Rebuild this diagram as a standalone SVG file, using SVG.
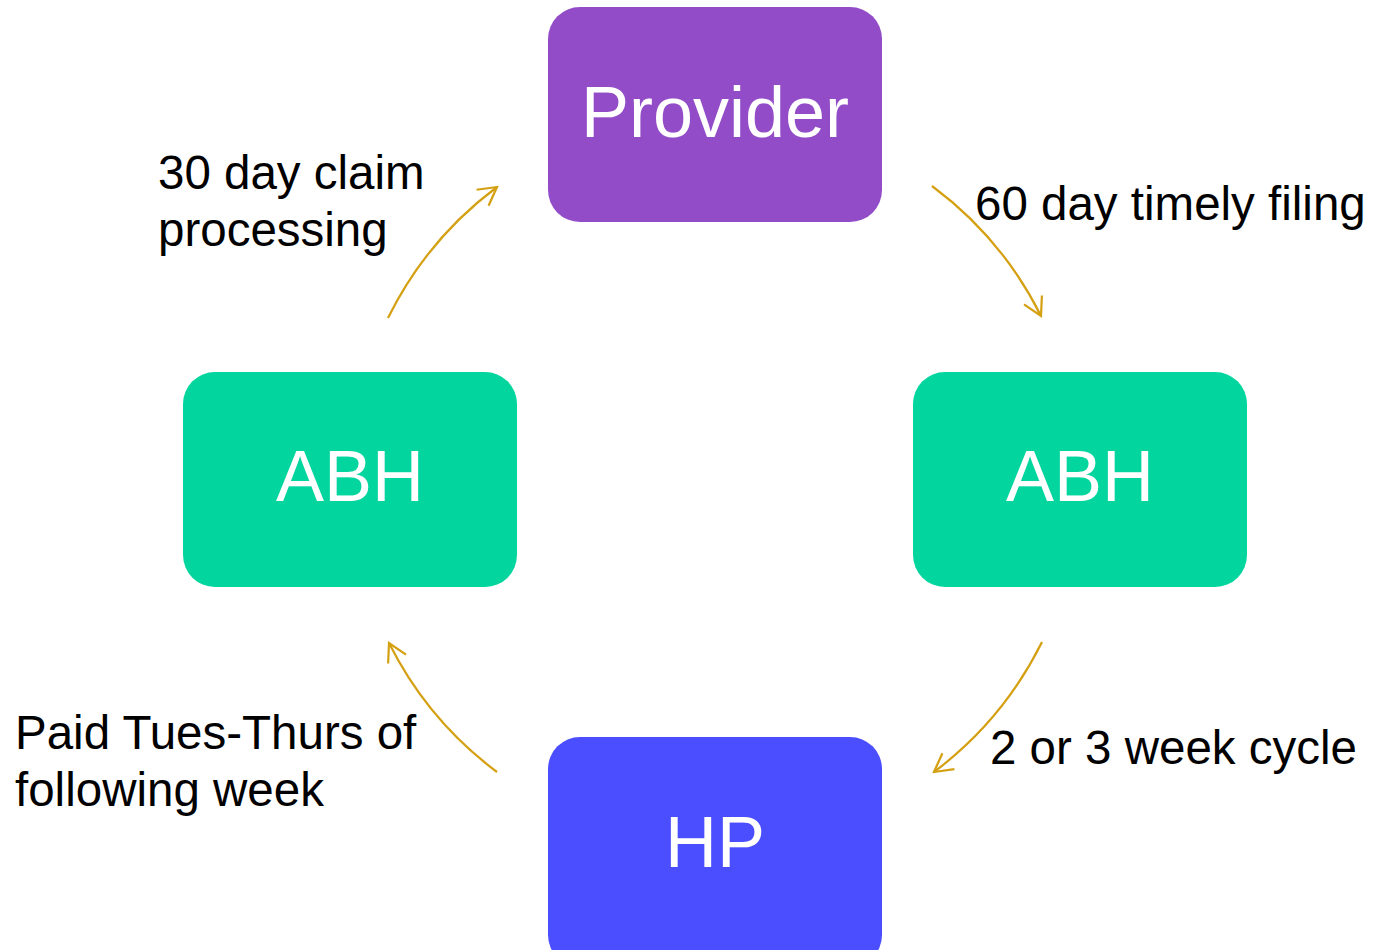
<svg xmlns="http://www.w3.org/2000/svg" width="1374" height="950" viewBox="0 0 1374 950">
<style>
.box{stroke:none}
.nt{font-family:"Liberation Sans",Arial,sans-serif;font-size:72px;fill:#ffffff;text-anchor:middle}
.lbl{font-family:"Liberation Sans",Arial,sans-serif;font-size:47.5px;fill:#000000}
.arc{fill:none;stroke:#D4A012;stroke-width:2.2;marker-end:url(#ah)}
</style>
<defs>
<marker id="ah" markerUnits="userSpaceOnUse" markerWidth="24" markerHeight="24" viewBox="-20 -12 24 24" refX="0" refY="0" orient="auto">
<path d="M-18,-10 L0,0 L-18,10" fill="none" stroke="#D4A012" stroke-width="2.2"/>
</marker>
</defs>
<rect width="1374" height="950" fill="#ffffff"/>
<g id="provider">
<rect class="box" x="548" y="7" width="334" height="215" rx="32" fill="#934CC7"/>
<text class="nt" x="715" y="137">Provider</text>
</g>
<g id="abh-right">
<rect class="box" x="913" y="372" width="334" height="215" rx="32" fill="#02D59E"/>
<text class="nt" x="1080" y="501">ABH</text>
</g>
<g id="hp">
<rect class="box" x="548" y="737" width="334" height="230" rx="32" fill="#4B4EFF"/>
<text class="nt" x="715" y="867">HP</text>
</g>
<g id="abh-left">
<rect class="box" x="183" y="372" width="334" height="215" rx="32" fill="#02D59E"/>
<text class="nt" x="350" y="501">ABH</text>
</g>
<g id="connectors">
<path class="arc" d="M932,186 A365,365 0 0 1 1041,316"/>
<path class="arc" d="M1042,642 A365,365 0 0 1 934,772"/>
<path class="arc" d="M497,772 A365,365 0 0 1 389,643"/>
<path class="arc" d="M388,318 A365,365 0 0 1 497,187"/>
</g>
<g id="labels">
<text class="lbl" x="975" y="220">60 day timely filing</text>
<text class="lbl" x="990" y="764">2 or 3 week cycle</text>
<text class="lbl" x="15" y="749">Paid Tues-Thurs of</text>
<text class="lbl" x="15" y="806">following week</text>
<text class="lbl" x="158" y="189">30 day claim</text>
<text class="lbl" x="158" y="246">processing</text>
</g>
</svg>
